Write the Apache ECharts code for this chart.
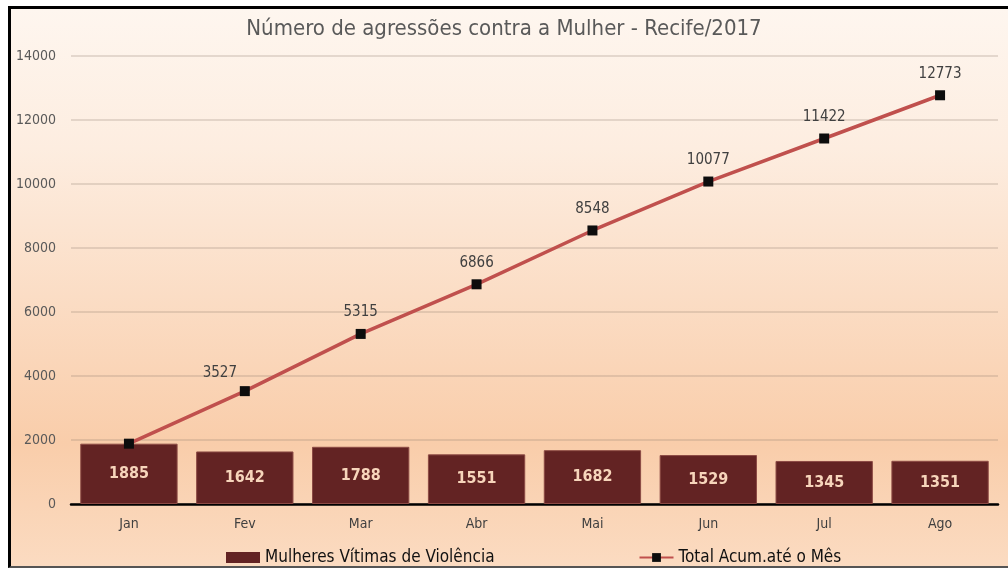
<!DOCTYPE html>
<html>
<head>
<meta charset="utf-8">
<script src="https://cdn.jsdelivr.net/npm/echarts@6/dist/echarts.min.js"></script>
<style>
  html, body { margin: 0; padding: 0; background: #fff; }
  #wrap { position: relative; width: 1008px; height: 570px; overflow: hidden; }
  #frame {
    position: absolute; left: 8px; top: 6px; width: 1010px; height: 557px;
    border-left: 3px solid #000; border-top: 3px solid #000; border-bottom: 2px solid #555;
    background: linear-gradient(to bottom, #fef6ef 0%, #fdede0 25%, #f9cdaa 78%, #fbdbc1 100%);
  }
  #chart { position: absolute; left: 0; top: 0; width: 1008px; height: 570px; }
</style>
</head>
<body>
<div id="wrap">
  <div id="frame"></div>
  <div id="chart"></div>
</div>
<script>
const months = ['Jan', 'Fev', 'Mar', 'Abr', 'Mai', 'Jun', 'Jul', 'Ago']
const victims = [1885, 1642, 1788, 1551, 1682, 1529, 1345, 1351]
const cumulative = [1885, 3527, 5315, 6866, 8548, 10077, 11422, 12773]
const yTicks = { min: 0, max: 14000, interval: 2000 }

const font = '"Liberation Sans Narrow", "DejaVu Sans Condensed", "Liberation Sans", sans-serif'

const chart = echarts.init(document.getElementById('chart'), null, { renderer: 'canvas' })

// first point's label is hidden (the bar shows it), Fev label sits up-left
const lineData = cumulative.map((v, i) => {
  if (i === 0) return { value: v, label: { show: false } }
  if (i === 1) return { value: v, label: { offset: [-25, 3] } }
  return v
})

chart.setOption({
  backgroundColor: 'transparent',
  animation: false,
  title: {
    text: 'Número de agressões contra a Mulher - Recife/2017',
    left: 499, top: 13, textAlign: 'center',
    textStyle: { fontFamily: font, fontSize: 22, fontWeight: 'normal', color: '#595959' }
  },
  legend: {
    left: 221, top: 544, itemWidth: 34, itemHeight: 11, itemGap: 144,
    textStyle: { fontFamily: font, fontSize: 17, color: '#111' },
    data: [
      { name: 'Mulheres Vítimas de Violência', icon: 'rect', itemStyle: { borderWidth: 0 } },
      { name: 'Total Acum.até o Mês' }
    ]
  },
  grid: { left: 71, right: 10, top: 56, bottom: 66, containLabel: false },
  xAxis: {
    type: 'category', data: months,
    axisLine: { lineStyle: { color: '#000', width: 2.5 } },
    axisTick: { show: false },
    axisLabel: { fontFamily: font, fontSize: 14, color: '#404040', margin: 13 }
  },
  yAxis: {
    type: 'value', min: yTicks.min, max: yTicks.max, interval: yTicks.interval,
    axisLine: { show: false }, axisTick: { show: false },
    axisLabel: { fontFamily: font, fontSize: 14, color: '#595959', margin: 15, formatter: v => String(v) },
    splitLine: { lineStyle: { color: 'rgba(140,120,110,0.3)', width: 1.5 } }
  },
  series: [
    {
      name: 'Mulheres Vítimas de Violência', type: 'bar', data: victims,
      barWidth: '84%',
      itemStyle: { color: '#632323', borderColor: '#8c4a44', borderWidth: 1 },
      label: {
        show: true, position: 'inside',
        fontFamily: font, fontSize: 16, fontWeight: 'bold', color: '#f7d5bb'
      },
      z: 2
    },
    {
      name: 'Total Acum.até o Mês', type: 'line', data: lineData,
      symbol: 'rect', symbolSize: 10,
      itemStyle: { color: '#0d0d0d' },
      lineStyle: { color: '#c0504d', width: 3.5 },
      label: {
        show: true, position: 'top', distance: 9,
        fontFamily: font, fontSize: 15, color: '#404040'
      },
      z: 3
    }
  ]
})
</script>
</body>
</html>
